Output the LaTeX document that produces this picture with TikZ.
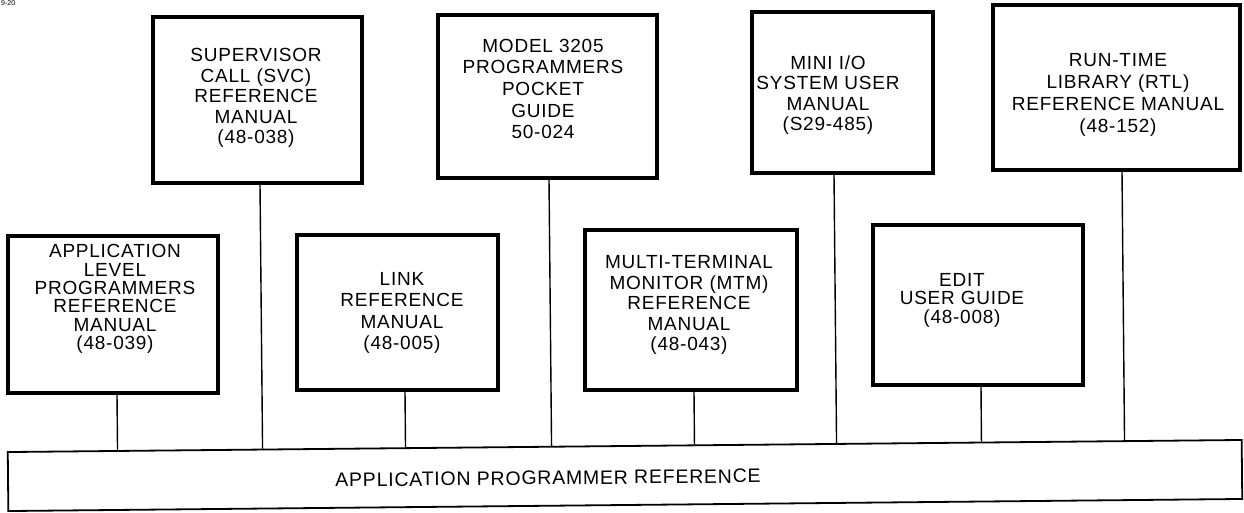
\documentclass[tikz,border=0pt]{standalone}
\usepackage{fontspec}
\setmainfont{Liberation Sans}
\newfontfamily\manualfont[LetterSpace=4]{Liberation Sans}
\usetikzlibrary{calc}
\tikzset{
  book/.style={draw, line width=3.2pt, inner sep=0pt, fill=white},
  booktext/.style={align=center, inner sep=0pt,
    font=\manualfont\fontsize{19}{20.5}\selectfont},
  wire/.style={draw, line width=1.4pt},
  base/.style={draw, line width=1.8pt, inner sep=0pt, rotate=0.56,
    minimum width=1234pt, minimum height=59pt},
}
\begin{document}
\begin{tikzpicture}[x=1pt, y=-1pt]
\useasboundingbox (0,0) rectangle (1244,512);

% page number in the corner
\node[anchor=north west, inner sep=0pt, font=\fontsize{7}{7}\selectfont] (pg) at (1,0.5) {9-20};

% common base
\node[base] (base) at (625,475.5) {};
\node[rotate=0.56, inner sep=0pt, font=\manualfont\fontsize{19.5}{20}\selectfont] (baselabel) at (548,478) {APPLICATION PROGRAMMER REFERENCE};

% manual boxes
\node[book, minimum width=210pt, minimum height=157pt] (A) at (113,314.5) {};
\node[book, minimum width=209pt, minimum height=166pt] (B) at (257.5,100) {};
\node[book, minimum width=219pt, minimum height=163pt] (C) at (547.5,96.5) {};
\node[book, minimum width=181pt, minimum height=161pt] (D) at (842.5,92.5) {};
\node[book, minimum width=247pt, minimum height=165pt] (E) at (1116.5,87.5) {};
\node[book, minimum width=201pt, minimum height=155pt] (F) at (397.5,312.5) {};
\node[book, minimum width=212pt, minimum height=160pt] (G) at (691,310) {};
\node[book, minimum width=210pt, minimum height=160pt] (H) at (978,305) {};

% titles
\node[booktext, font=\manualfont\fontsize{19}{18.4}\selectfont] (tA) at (115,299) {APPLICATION\\LEVEL\\PROGRAMMERS\\REFERENCE\\MANUAL\\(48-039)};
\node[booktext] (tB) at (256,98) {SUPERVISOR\\CALL (SVC)\\REFERENCE\\MANUAL\\(48-038)};
\node[booktext, font=\manualfont\fontsize{19}{21.7}\selectfont] (tC) at (543,89) {MODEL 3205\\PROGRAMMERS\\POCKET\\GUIDE\\50-024};
\node[booktext] (tD) at (828,95) {MINI I/O\\SYSTEM USER\\MANUAL\\(S29-485)};
\node[booktext, font=\manualfont\fontsize{19}{22}\selectfont] (tE) at (1118,95) {RUN-TIME\\LIBRARY (RTL)\\REFERENCE MANUAL\\(48-152)};
\node[booktext, font=\manualfont\fontsize{19}{21.5}\selectfont] (tF) at (402,313) {LINK\\REFERENCE\\MANUAL\\(48-005)};
\node[booktext] (tG) at (689,305) {MULTI-TERMINAL\\MONITOR (MTM)\\REFERENCE\\MANUAL\\(48-043)};
\node[booktext, font=\manualfont\fontsize{19}{18.5}\selectfont] (tH) at (962,300) {EDIT\\USER GUIDE\\(48-008)};

% drops to the base
\foreach \b/\dx in {A/4, B/2.5, C/1.5, D/-8.5, E/5.5, F/7.5, G/3, H/3} {
  \draw[wire] ([xshift=\dx pt]\b.south)
    -- ($(base.north west)!([xshift=\dx pt]\b.south)!(base.north east)$);
}
\end{tikzpicture}
\end{document}
